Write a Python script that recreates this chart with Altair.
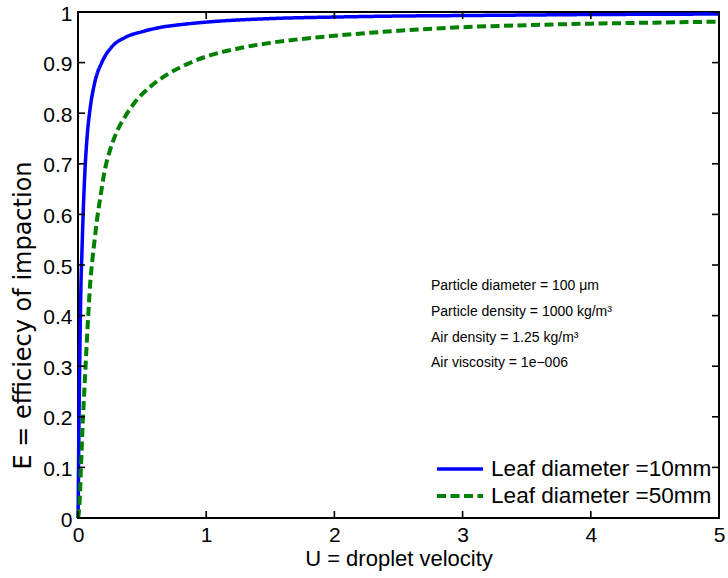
import altair as alt
import pandas as pd

# ---- data ----
u_leaf10 = [0, 0.002, 0.005, 0.008, 0.012, 0.017, 0.023, 0.03, 0.04, 0.055, 0.07, 0.095,
            0.13, 0.185, 0.26, 0.37, 0.5, 0.63, 0.8, 1.0, 1.5, 2.0, 2.5, 3.0, 3.5, 4.0, 4.5, 5.0]
e_leaf10 = [0, 0.04, 0.12, 0.20, 0.28, 0.37, 0.46, 0.52, 0.60, 0.69, 0.75, 0.81,
            0.86, 0.90, 0.93, 0.95, 0.961, 0.969, 0.975, 0.98, 0.987, 0.99, 0.992, 0.993,
            0.994, 0.995, 0.9955, 0.996]

u_leaf50 = [0, 0.008, 0.016, 0.023, 0.034, 0.045, 0.055, 0.068, 0.08, 0.094, 0.112, 0.13,
            0.146, 0.172, 0.211, 0.25, 0.30, 0.367, 0.445, 0.5625, 0.68, 0.86, 1.0, 1.25,
            1.5, 2.0, 2.5, 3.0, 3.5, 4.0, 4.5, 5.0]
e_leaf50 = [0, 0.015, 0.05, 0.10, 0.17, 0.23, 0.28, 0.345, 0.40, 0.46, 0.51, 0.55,
            0.585, 0.63, 0.69, 0.727, 0.762, 0.793, 0.822, 0.852, 0.874, 0.898, 0.912, 0.928,
            0.939, 0.953, 0.963, 0.970, 0.974, 0.977, 0.979, 0.981]

series_names = ["Leaf diameter =10mm", "Leaf diameter =50mm"]
x_ticks = [0, 1, 2, 3, 4, 5]
y_ticks = [0, 0.1, 0.2, 0.3, 0.4, 0.5, 0.6, 0.7, 0.8, 0.9, 1]
notes = [
    "Particle diameter = 100 \u03bcm",
    "Particle density = 1000 kg/m\u00b3",
    "Air density = 1.25 kg/m\u00b3",
    "Air viscosity = 1e\u2212006",
]
x_title = "U = droplet velocity"
y_title = "E = efficiecy of impaction"

# ---- layout / style ----
W, H = 641, 506
FONT = "Liberation Sans"
colors = ["#0000ff", "#008000"]
dashes = [[1, 0], [9, 4.5]]
widths = [3.5, 4]
TICK = 7

df = pd.concat([
    pd.DataFrame({"U": u_leaf10, "E": e_leaf10, "series": series_names[0]}),
    pd.DataFrame({"U": u_leaf50, "E": e_leaf50, "series": series_names[1]}),
])

xscale = alt.Scale(domain=[0, 5], nice=False, zero=False)
yscale = alt.Scale(domain=[0, 1], nice=False, zero=False)

X = alt.X("U:Q", scale=xscale, axis=alt.Axis(
    values=x_ticks, format="d", title=x_title, ticks=False, domain=False, grid=False,
    labelFontSize=21, titleFontSize=22, labelPadding=6, titlePadding=3,
    labelFlush=False, labelFont=FONT, titleFont=FONT, labelColor="black",
    titleColor="black", titleFontWeight="normal"))
Y = alt.Y("E:Q", scale=yscale, axis=alt.Axis(
    values=y_ticks, format="~g", title=y_title, ticks=False, domain=False, grid=False,
    labelFontSize=21, titleFontSize=24, labelPadding=6,
    titleX=-55, titleY=303, titleAlign="center", titleBaseline="middle", titleAngle=270,
    labelFlush=False, labelFont=FONT, titleFont="DejaVu Sans", labelColor="black",
    titleColor="black", titleFontWeight="normal", labelOffset=2))

layers = []
for i, name in enumerate(series_names):
    layers.append(
        alt.Chart(df[df["series"] == name]).mark_line(
            strokeWidth=widths[i], interpolate="monotone", color=colors[i], strokeDash=dashes[i]
        ).encode(x=X, y=Y)
    )

xt = pd.DataFrame({"U": x_ticks})
yt = pd.DataFrame({"E": y_ticks})
tick_style = dict(color="black", thickness=1.6, size=TICK, opacity=1)
layers += [
    alt.Chart(xt).mark_tick(orient="vertical", **tick_style).encode(x=X, y=alt.value(H - TICK / 2)),
    alt.Chart(xt).mark_tick(orient="vertical", **tick_style).encode(x=X, y=alt.value(TICK / 2)),
    alt.Chart(yt).mark_tick(orient="horizontal", **tick_style).encode(y=Y, x=alt.value(TICK / 2)),
    alt.Chart(yt).mark_tick(orient="horizontal", **tick_style).encode(y=Y, x=alt.value(W - TICK / 2)),
]

# annotation block
for i, note in enumerate(notes):
    layers.append(
        alt.Chart(pd.DataFrame({"t": [note]})).mark_text(
            align="left", baseline="middle", fontSize=14, font=FONT, color="black"
        ).encode(x=alt.value(353), y=alt.value(274 + i * 25.8), text="t:N")
    )

# legend (box off)
for i, name in enumerate(series_names):
    yy = 457 + i * 27
    layers.append(
        alt.Chart(pd.DataFrame({"s": [name]})).mark_rule(
            strokeWidth=widths[i], color=colors[i], strokeDash=dashes[i]
        ).encode(x=alt.value(359), x2=alt.value(405), y=alt.value(yy))
    )
    layers.append(
        alt.Chart(pd.DataFrame({"s": [name]})).mark_text(
            align="left", baseline="middle", fontSize=22.6, font=FONT, color="black"
        ).encode(x=alt.value(413), y=alt.value(yy), text="s:N")
    )

chart = alt.layer(*layers).properties(
    width=W, height=H,
    autosize=alt.AutoSizeParams(type="none"),
    padding={"left": 78, "top": 12, "right": 728 - 78 - W, "bottom": 578 - 12 - H},
    background="white",
).configure_view(stroke="black", strokeWidth=2)

chart.save("out.html", embed_options={"renderer": "svg", "actions": False})
